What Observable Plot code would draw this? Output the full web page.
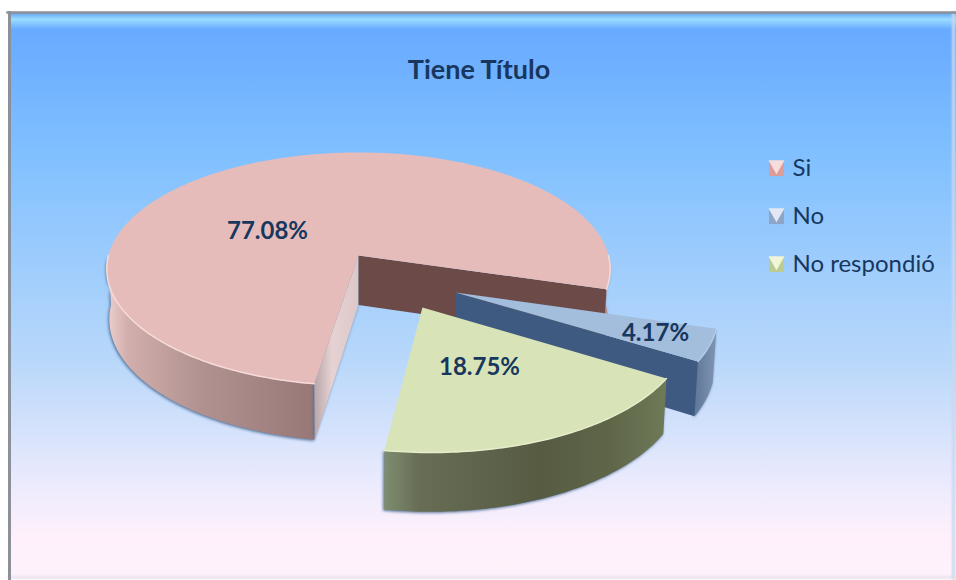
<!DOCTYPE html>
<html>
<head>
<meta charset="utf-8">
<script src="https://cdn.jsdelivr.net/npm/d3@7"></script>
<script src="https://cdn.jsdelivr.net/npm/@observablehq/plot@0.6"></script>
<style>
html,body{margin:0;padding:0;background:#fff}
svg{display:block}
</style>
</head>
<body>
<div id="chart"></div>
<script>
// --- data ---
const categories = ["Si", "No", "No respondió"];
const shares = [77.08, 4.17, 18.75];
const shareLabels = ["77.08%", "4.17%", "18.75%"];
const titleText = "Tiene Título";

// --- styling, per slice ---
const topColors = ["#e6bcbb", "#a3bddc", "#d8e3b8"];
const edgeColors = ["#f6dcd8", "#b4cbe6", "#e6eecb"];
const wallFills = ["url(#wallSi)", "url(#wallNo)", "url(#wallNR)"];
const startWalls = ["url(#cutSi)", null, null];
const endWalls = ["#6b4a48", "#3f5a80", null];
const explodeX = [0, 0.374, 0.243];
const explodeY = [0, 0.31, 0.429];
const labelX = [-0.364, 1.188, 0.484];
const labelY = [-0.209, 0.678, 0.974];
const swatchColors = ["#dc9c9a", "#8fa5c6", "#bccb92"];
const swatchLights = ["#f6dcdc", "#e2e9f4", "#f1f5da"];
const legendY = [-0.757, -0.339, 0.078];
const legendSwatchX = 1.672;
const legendTextX = 1.736;
const titleX = 0.482;
const titleY = -1.609;

// --- 3D pie model ---
const startAngle = 189;
const persp = 0.116;
const depth = 0.43;
const rad = d => d * Math.PI / 180;

function project(i, angle, r, z) {
  const X = explodeX[i] + r * Math.sin(rad(angle));
  const Y = explodeY[i] - r * Math.cos(rad(angle));
  const w = 1 - persp * Y;
  return {x: X / w * (1 - 0.01 * z), y: (Y + depth * z) / w};
}
function arc(i, a, b, z) {
  const pts = [];
  const n = Math.max(2, Math.ceil(Math.abs(b - a)));
  for (let k = 0; k <= n; ++k) pts.push(project(i, a + (b - a) * k / n, 1, z));
  return pts;
}
let cum = startAngle;
const slices = shares.map((s, i) => {
  const a0 = cum;
  cum += s * 3.6;
  return {i, a0, a1: cum};
});

// Angle ranges of a slice's rim that face the viewer (the front half of the pie).
function frontRanges(s) {
  const out = [];
  for (const [lo, hi] of [[90, 270], [450, 630]]) {
    const a = Math.max(s.a0, lo), b = Math.min(s.a1, hi);
    if (b > a) out.push([a, b]);
  }
  return out;
}
function facePolygon(s) {
  return [project(s.i, 0, 0, 0), ...arc(s.i, s.a0, s.a1, 0)];
}
function cutPolygon(s, angle) {
  return [project(s.i, 0, 0, 0), project(s.i, angle, 1, 0), project(s.i, angle, 1, 1), project(s.i, 0, 0, 1)];
}

// --- gradients ---
const bgStops = [[0, "#5f9ff0"], [0.012, "#9adcff"], [0.03, "#68aaff"], [0.25, "#80c0ff"], [0.62, "#b9d8fa"], [0.85, "#efecfd"], [0.93, "#fff0fb"], [1, "#fdf2fb"]];
const wallSiStops = [[0, "#ecd0d0"], [0.1, "#d2aeac"], [0.45, "#b09290"], [1, "#987876"]];
const wallNoStops = [[0, "#5e7899"], [1, "#8095b2"]];
const wallNRStops = [[0, "#7f8d70"], [0.12, "#686e56"], [0.55, "#565b42"], [0.8, "#5f6648"], [1, "#6e7a58"]];
const cutSiStops = [[0, "#b9a6aa"], [0.4, "#e6d2d2"], [1, "#dcc8c8"]];
const borderColor = "#8b9099";

function gradient(id, stops, vertical) {
  const dir = vertical ? 'x1="0" y1="0" x2="0" y2="1"' : 'x1="0" y1="0" x2="1" y2="0"';
  return `<linearGradient id="${id}" ${dir}>` +
    stops.map(([o, c]) => `<stop offset="${o}" stop-color="${c}"/>`).join("") + `</linearGradient>`;
}
const defsMark = () => {
  const g = d3.create("svg:defs");
  g.html(gradient("bg", bgStops, true) + gradient("wallSi", wallSiStops) + gradient("wallNo", wallNoStops) +
    gradient("wallNR", wallNRStops) + gradient("cutSi", cutSiStops));
  return g.node();
};

// --- marks ---
const soft = "blur(0.5px)";
const shadow = "drop-shadow(-1px 1.5px 1.5px #4f6f98)";
const poly = (pts, fill, imageFilter = soft) =>
  Plot.line(pts, {x: "x", y: "y", fill, stroke: "none", curve: "linear", imageFilter});

const sliceMarks = slices.flatMap(s => {
  const m = [];
  const ranges = frontRanges(s);
  ranges.forEach(([a, b]) => m.push(poly([...arc(s.i, a, b, 0), ...arc(s.i, b, a, 1)], wallFills[s.i], shadow)));
  if (startWalls[s.i]) m.push(poly(cutPolygon(s, s.a0), startWalls[s.i], shadow));
  if (endWalls[s.i]) m.push(poly(cutPolygon(s, s.a1), endWalls[s.i]));
  m.push(poly(facePolygon(s), topColors[s.i]));
  ranges.forEach(([a, b]) => m.push(Plot.line(arc(s.i, a, b, 0), {x: "x", y: "y", stroke: edgeColors[s.i], strokeWidth: 1.5, curve: "linear", imageFilter: soft})));
  return m;
});

const ink = "#17375e";
const legendRows = categories.map((c, i) => ({c, y: legendY[i], fill: swatchColors[i], light: swatchLights[i]}));
const labelRows = shareLabels.map((t, i) => ({t, x: labelX[i], y: labelY[i]}));

const chart = Plot.plot({
  width: 956,
  height: 580,
  marginTop: 0, marginRight: 0, marginBottom: 0, marginLeft: 0,
  x: {domain: [-1, 1], range: [108, 608], axis: null},
  y: {domain: [-1, 1], range: [140, 370], axis: null},
  style: {background: "transparent", fontFamily: "Lato, 'Open Sans', sans-serif"},
  marks: [
    defsMark,
    Plot.frame({fill: "url(#bg)", stroke: "none", insetLeft: 8, insetTop: 12, insetRight: 0, insetBottom: 2}),
    Plot.frame({anchor: "right", stroke: "#c9d8ee", strokeWidth: 3, insetRight: 3, insetTop: 12, insetBottom: 2, imageFilter: "blur(1px)"}),
    Plot.frame({anchor: "bottom", stroke: "#e2dde6", strokeWidth: 2, insetBottom: 3, insetLeft: 8, imageFilter: "blur(1px)"}),
    Plot.frame({anchor: "top", stroke: borderColor, strokeWidth: 2.5, insetTop: 12, insetLeft: 7, imageFilter: "blur(0.4px)"}),
    Plot.frame({anchor: "left", stroke: borderColor, strokeWidth: 3, insetLeft: 9, insetTop: 12, insetBottom: 2, imageFilter: "blur(0.6px)"}),
    ...sliceMarks,
    Plot.text([titleText], {x: () => titleX, y: () => titleY, text: d => d, fontSize: 27, fontWeight: 700, fill: ink}),
    Plot.text(labelRows, {x: "x", y: "y", text: "t", fontSize: 24, fontWeight: 700, fill: ink}),
    Plot.dot(legendRows, {x: () => legendSwatchX, y: "y", symbol: "square", r: 8.5, fill: "fill", imageFilter: "blur(0.5px)"}),
    Plot.dot(legendRows, {x: () => legendSwatchX, y: "y", dy: -3.5, symbol: "triangle", rotate: 180, r: 6, fill: "light", imageFilter: "blur(0.6px)"}),
    Plot.text(legendRows, {x: () => legendTextX, y: "y", text: "c", textAnchor: "start", fontSize: 24, fill: ink})
  ]
});
document.getElementById("chart").append(chart);
</script>
</body>
</html>
